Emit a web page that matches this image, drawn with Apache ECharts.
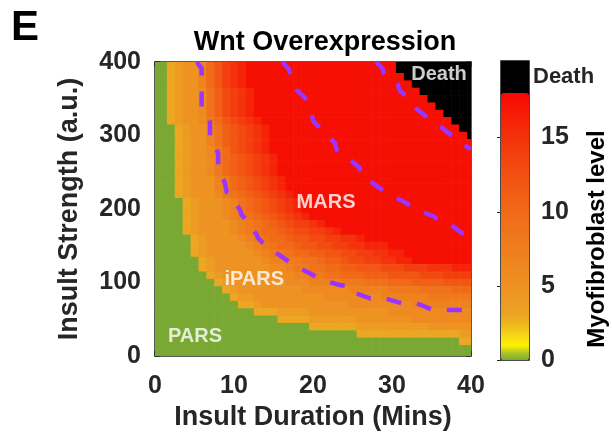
<!DOCTYPE html>
<html>
<head>
<meta charset="utf-8">
<script src="https://cdn.jsdelivr.net/npm/echarts@6/dist/echarts.min.js"></script>
<style>
  html, body { margin: 0; padding: 0; background: #fff; }
  #chart { width: 612px; height: 442px; }
</style>
</head>
<body>
<div id="chart"></div>
<script>
// cell centres of the phase diagram
const durations = [0, 1, 2, 3, 4, 5, 6, 7, 8, 9, 10, 11, 12, 13, 14, 15, 16, 17, 18, 19, 20,
  21, 22, 23, 24, 25, 26, 27, 28, 29, 30, 31, 32, 33, 34, 35, 36, 37, 38, 39, 40];
const strengths = [400, 390, 380, 370, 360, 350, 340, 330, 320, 310, 300, 290, 280, 270, 260,
  250, 240, 230, 220, 210, 200, 190, 180, 170, 160, 150, 140, 130, 120, 110, 100, 90, 80, 70,
  60, 50, 40, 30, 20, 10, 0];

// myofibroblast level per cell, one string per strength row (top row first),
// '|' only groups the columns in tens: 0 = green, 3..9 = level, a..h = 10..17.5, X = death
const levelRows = [
  '0034557ace|fghhhhhhhh|hhhhhhhhhh|hXXXXXXXXX|X', // 400
  '0034557ace|fghhhhhhhh|hhhhhhhhhh|hXXXXXXXXX|X',
  '0034557ace|fghhhhhhhh|hhhhhhhhhh|hhXXXXXXXX|X',
  '0034557ace|fghhhhhhhh|hhhhhhhhhh|hhhXXXXXXX|X',
  '00345569bd|efghhhhhhh|hhhhhhhhhh|hhhhXXXXXX|X',
  '00345569bd|efghhhhhhh|hhhhhhhhhh|hhhhhXXXXX|X', // 350
  '00345569bd|efghhhhhhh|hhhhhhhhhh|hhhhhhXXXX|X',
  '00345569bd|efghhhhhhh|hhhhhhhhhh|hhhhhhhXXX|X',
  '00345568ac|defghhhhhh|hhhhhhhhhh|hhhhhhhhXX|X',
  '000345579b|cdefghhhhh|hhhhhhhhhh|hhhhhhhhhX|X',
  '000345579b|cdefghhhhh|hhhhhhhhhh|hhhhhhhhhh|X', // 300
  '000345579b|cdefghhhhh|hhhhhhhhhh|hhhhhhhhhh|h',
  '000345568a|cdefghhhhh|hhhhhhhhhh|hhhhhhhhhh|h',
  '000345568a|bcdefghhhh|hhhhhhhhhh|hhhhhhhhhh|h',
  '000345568a|bcdefghhhh|hhhhhhhhhh|hhhhhhhhhh|h',
  '000345568a|bcdefghhhh|hhhhhhhhhh|hhhhhhhhhh|h', // 250
  '0003455578|abcdefghhh|hhhhhhhhhh|hhhhhhhhhh|h',
  '0003455578|abcdefghhh|hhhhhhhhhh|hhhhhhhhhh|h',
  '0003455568|9abcdefghh|hhhhhhhhhh|hhhhhhhhhh|h',
  '0000345556|79abcdefgh|hhhhhhhhhh|hhhhhhhhhh|h',
  '0000345556|79abcdefgh|hhhhhhhhhh|hhhhhhhhhh|h', // 200
  '0000345556|789abcdefg|hhhhhhhhhh|hhhhhhhhhh|h',
  '0000345555|6789abcdee|fghhhhhhhh|hhhhhhhhhh|h',
  '0000345555|6789aabcdd|eefghhhhhh|hhhhhhhhhh|h',
  '0000034555|56789aabcc|ddeeffghhh|hhhhhhhhhh|h',
  '0000034555|556789aabc|cddeeffggg|hhhhhhhhhh|h', // 150
  '0000034555|55567889aa|bbccddeeff|gghhhhhhhh|h',
  '0000003455|5555677889|9abbcddeef|fgghhhhhhh|h',
  '0000003455|5555566788|99aabbcccd|ddeeefffgg|g',
  '0000000345|5555556677|8899aaabbb|ccccdddeee|e',
  '0000000034|5555555666|7777888999|aaabbbbccc|c', // 100
  '0000000003|4555555556|6666677777|88889999aa|a',
  '0000000000|3445555555|5566666667|7777788888|8',
  '0000000000|0334555555|5555566666|6667777777|7',
  '0000000000|0003334444|5555555555|6666666666|6',
  '0000000000|0000003333|4444445555|5556666666|6', // 50
  '0000000000|0000000000|3333334444|4444455555|5',
  '0000000000|0000000000|0000003333|3333333334|4',
  '0000000000|0000000000|0000000000|0000000003|3',
  '0000000000|0000000000|0000000000|0000000000|0',
  '0000000000|0000000000|0000000000|0000000000|0'  // 0
];
const levelValue = { '0': 0, '3': 3, '4': 4, '5': 5, '6': 6, '7': 7, '8': 8, '9': 9,
  a: 10, b: 11, c: 12, d: 13, e: 14, f: 15, g: 16, h: 17.5, X: 19 };
const DEATH = 19;

// dashed regime boundaries [duration, strength]
const innerBoundary = [[5.3, 400], [5.9, 391], [5.9, 339], [6.96, 319], [6.96, 298], [8, 276],
  [8, 255], [8.86, 235], [9.08, 223], [9.5, 219], [10.76, 199], [10.97, 192], [11.6, 185],
  [12.87, 165], [13.08, 160], [13.9, 151], [15.8, 137], [17.5, 124], [19.6, 112.5],
  [21.1, 103.4], [23.4, 96.6], [24.7, 94.3], [24.9, 87.5], [27.2, 78.5], [29.1, 78.5],
  [31.2, 71.7], [33.1, 71.7], [35.2, 62.6], [37.1, 62.6], [40, 62.6]];
const middleBoundary = [[16.1, 400], [16.87, 391.4], [17.09, 384.6], [17.94, 362.3],
  [18.35, 357.8], [18.99, 351], [19.84, 328.3], [20.04, 319.3], [20.67, 312.5], [22.15, 296.6],
  [22.78, 289.8], [23, 280.7], [24.9, 264.9], [25.95, 255.8], [25.95, 246.7], [27.85, 233.1],
  [29.53, 219.5], [31.43, 210.5], [33.13, 199.1], [35.23, 190.1], [35.86, 185.4],
  [36.9, 183.3], [38.8, 167.3], [40, 167.3]];
const outerBoundary = [[28, 400], [28.8, 391.4], [29, 383.7], [30.7, 370], [31, 360.5],
  [31.86, 353.7], [33, 337.4], [34.6, 323.4], [36.3, 310.9], [38.2, 293.9], [40, 281]];

const regionLabels = [
  { name: 'MARS', value: [21.65, 209.5] },
  { name: 'iPARS', value: [12.56, 103.8] },
  { name: 'PARS', value: [5.06, 26.8] },
  { name: 'Death', value: [35.95, 383] }
];

const barTicks = [0, 5, 10, 15];
// colormap sampled every 0.5 from 0 to 18
const colourStops = ['#79a933', '#aac427', '#fff200', '#f8de14', '#f2c81a', '#eeb51f',
  '#eca622', '#eca023', '#ec9b23', '#ed9722', '#ee9221', '#ee8e21', '#ee8a20', '#ee861f',
  '#ee821e', '#ef7e1d', '#ef7a1c', '#ef761b', '#f0721a', '#f06e19', '#f06a18', '#f06516',
  '#f16015', '#f15b14', '#f15613', '#f25012', '#f24a10', '#f2440f', '#f33e0e', '#f3380c',
  '#f4320b', '#f42b09', '#f52408', '#f51d06', '#f51605', '#f60f03', '#f70802'];

const FONT = '"Liberation Sans", Arial, sans-serif';
const INK = '#262626';
const PURPLE = '#9a34ff';

const cells = [];
strengths.forEach((v, r) => {
  const row = levelRows[r].replace(/\|/g, '');
  durations.forEach((d, c) => {
    cells.push([d, v, levelValue[row[c]]]);
  });
});
const halfX = (durations[1] - durations[0]) / 2;
const halfY = (strengths[0] - strengths[1]) / 2;

const chart = echarts.init(document.getElementById('chart'), null, { renderer: 'canvas' });

const frameAxis = {
  axisLine: { show: true, onZero: false, lineStyle: { color: INK, width: 1.5 } },
  axisTick: { show: true, inside: true, length: 5, lineStyle: { color: INK, width: 1.5 } },
  splitLine: { show: false }
};
const tickText = { fontSize: 25, fontWeight: 'bold', color: INK, fontFamily: FONT };
const nameText = { fontSize: 27, fontWeight: 'bold', color: INK, fontFamily: FONT };

const boundaryLine = (data) => ({
  type: 'line', xAxisIndex: 0, yAxisIndex: 0, data: data, symbol: 'none', silent: true,
  clip: true, z: 5,
  lineStyle: { color: PURPLE, width: 4.5, type: [15, 16], cap: 'butt', join: 'round' }
});

chart.setOption({
  animation: false,
  grid: [
    { left: 155, top: 62, width: 316, height: 294 },
    { left: 501, top: 61, width: 28, height: 299.5, show: true, backgroundColor: '#000', borderWidth: 0 }
  ],
  xAxis: [
    Object.assign({}, frameAxis, {
      gridIndex: 0, type: 'value', min: 0, max: 40, interval: 10, position: 'bottom',
      name: 'Insult Duration (Mins)', nameLocation: 'middle', nameGap: 40, nameTextStyle: nameText,
      axisLabel: Object.assign({ margin: 18 }, tickText)
    }),
    Object.assign({}, frameAxis, {
      gridIndex: 0, type: 'value', min: 0, max: 40, interval: 10, position: 'top',
      axisLabel: { show: false }
    }),
    { gridIndex: 1, type: 'value', min: 0, max: 1, show: false }
  ],
  yAxis: [
    Object.assign({}, frameAxis, {
      gridIndex: 0, type: 'value', min: 0, max: 400, interval: 100, position: 'left',
      name: 'Insult Strength (a.u.)', nameLocation: 'middle', nameGap: 72, nameTextStyle: nameText,
      axisLabel: Object.assign({ margin: 14 }, tickText)
    }),
    Object.assign({}, frameAxis, {
      gridIndex: 0, type: 'value', min: 0, max: 400, interval: 100, position: 'right',
      axisLabel: { show: false }
    }),
    {
      gridIndex: 1, type: 'value', min: 0, max: 20.14, interval: 5, position: 'right',
      axisLine: { show: false }, splitLine: { show: false },
      axisTick: { show: true, inside: true, length: 4, customValues: barTicks, lineStyle: { color: INK, width: 1 } },
      axisLabel: Object.assign({ margin: 12, customValues: barTicks,
        formatter: (v) => (v > 17 ? '' : String(v)) }, tickText)
    }
  ],
  visualMap: {
    type: 'continuous', seriesIndex: 0, dimension: 2, min: 0, max: 18,
    calculable: false, hoverLink: false, orient: 'vertical',
    left: 501, top: 93, itemWidth: 28, itemHeight: 267.5, padding: 0,
    inRange: { color: colourStops },
    outOfRange: { color: '#000' }
  },
  graphic: [
    { type: 'text', x: 25, y: 28, style: { text: 'E', fontSize: 42, fontWeight: 'bold', fontFamily: FONT, fill: '#000', align: 'center', verticalAlign: 'middle' } },
    { type: 'text', x: 325, y: 43, style: { text: 'Wnt Overexpression', fontSize: 27, fontWeight: 'bold', fontFamily: FONT, fill: '#000', align: 'center', verticalAlign: 'middle' } },
    { type: 'text', x: 533, y: 77, style: { text: 'Death', fontSize: 22, fontWeight: 'bold', fontFamily: FONT, fill: INK, align: 'left', verticalAlign: 'middle' } },
    { type: 'text', x: 597, y: 239, rotation: Math.PI / 2, style: { text: 'Myofibroblast level', fontSize: 24, fontWeight: 'bold', fontFamily: FONT, fill: '#000', align: 'center', verticalAlign: 'middle' } },
    { type: 'rect', z: 100, shape: { x: 500.5, y: 60.5, width: 29, height: 300 }, style: { fill: null, stroke: '#4a4a4a', lineWidth: 1 } }
  ],
  series: [
    {
      type: 'custom', xAxisIndex: 0, yAxisIndex: 0, clip: true, silent: true, z: 2,
      encode: { x: 0, y: 1 },
      data: cells,
      renderItem: function (params, api) {
        const x = api.value(0), y = api.value(1);
        const a = api.coord([x - halfX, y + halfY]);
        const b = api.coord([x + halfX, y - halfY]);
        return {
          type: 'rect',
          shape: { x: a[0], y: a[1], width: b[0] - a[0] + 0.6, height: b[1] - a[1] + 0.6 },
          style: { fill: api.value(2) >= DEATH ? '#000' : api.visual('color') }
        };
      }
    },
    boundaryLine(innerBoundary),
    boundaryLine(middleBoundary),
    boundaryLine(outerBoundary),
    {
      type: 'scatter', xAxisIndex: 0, yAxisIndex: 0, data: regionLabels, symbolSize: 0, silent: true, z: 6,
      label: { show: true, position: 'inside', formatter: '{b}', color: '#fff', fontSize: 20, fontWeight: 'bold', fontFamily: FONT }
    }
  ]
});
</script>
</body>
</html>
